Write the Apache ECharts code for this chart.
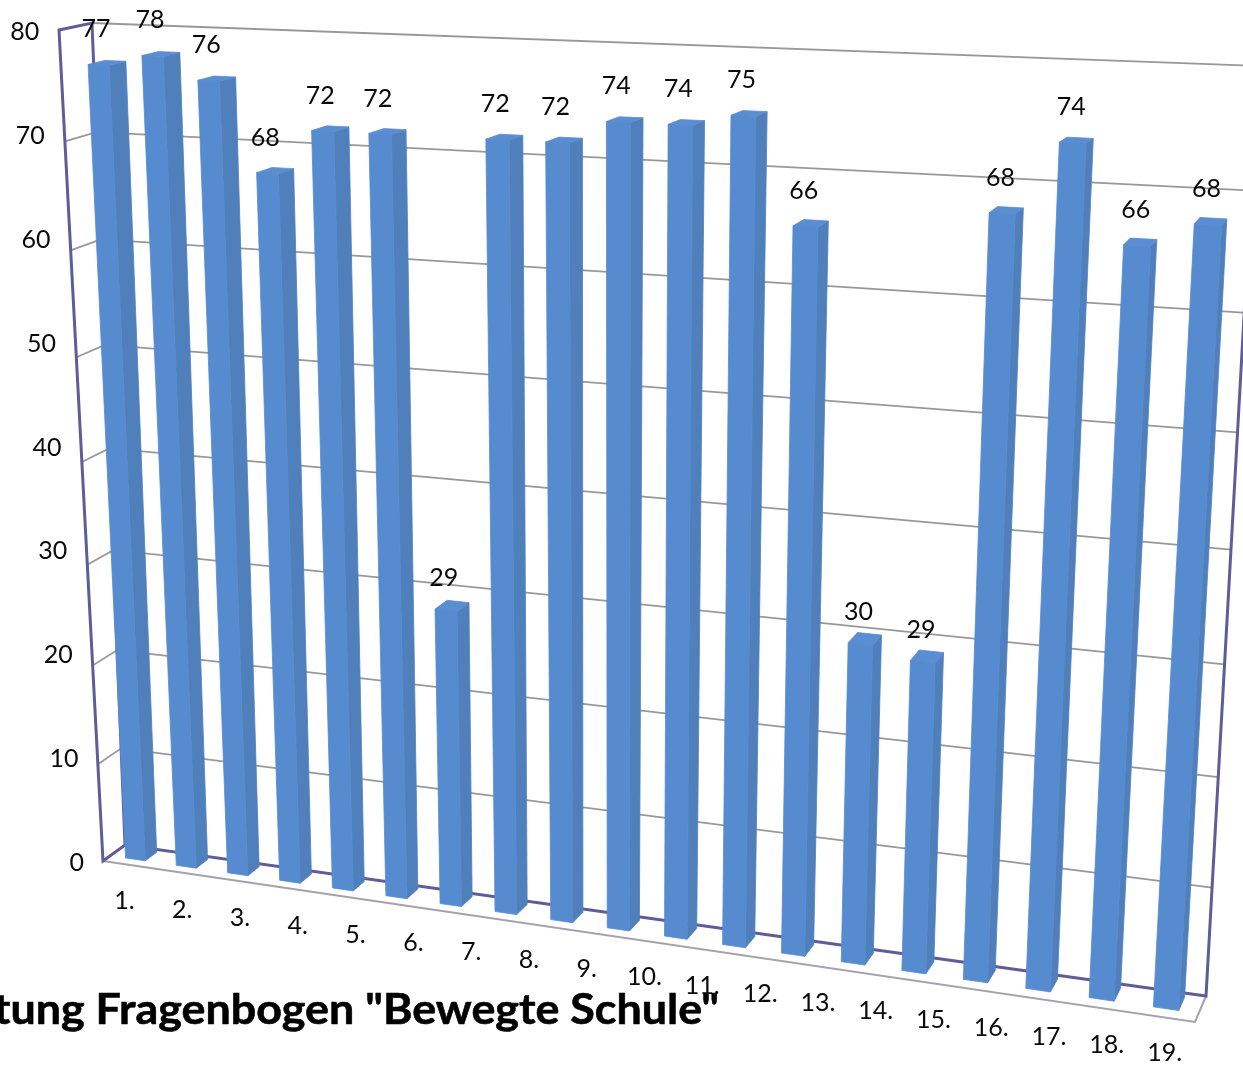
<!DOCTYPE html>
<html><head><meta charset="utf-8">
<style>html,body{margin:0;padding:0;background:#fff}#c{width:1243px;height:1068px}</style>
<script src="https://cdn.jsdelivr.net/npm/echarts@6/dist/echarts.min.js"></script>
</head><body><div id="c"></div>
<script>
const categories = ['1.','2.','3.','4.','5.','6.','7.','8.','9.','10.','11.','12.','13.','14.','15.','16.','17.','18.','19.'];
const values = [77,78,76,68,72,72,29,72,72,74,74,75,66,30,29,68,74,66,68];
const ticks = [0,10,20,30,40,50,60,70,80];
const titleText = 'Auswertung Fragenbogen "Bewegte Schule"';

// view: the flat plot area is warped on to the tilted 3D box of the picture
const GRID = {left:96, top:31, width:1098, height:831};
const FRONT = [[103,861],[1195,1022],[1249,74],[59,30]];   // (u,v)=(0,0),(1,0),(1,1),(0,1)
const BACK  = [[125,845],[1206,996],[1258,66],[92,23]];
const Z_FRONT = 0.33, Z_BACK = 0.85, BAR_HALF = 0.195, TOP_DROP = 2.5;
const C = {front:'#568bcf', side:'#4f80bb', top:'#5a8dd1', grid:'#989898', axis:'#5f5c98', floor:'#a3a2ad', text:'#0a0a0a'};
const FONT = 'Lato, "Open Sans", sans-serif';

function quadMap(q){
  const [[x0,y0],[x1,y1],[x2,y2],[x3,y3]] = q;
  const dx1=x1-x2, dx2=x3-x2, sx=x0-x1+x2-x3, dy1=y1-y2, dy2=y3-y2, sy=y0-y1+y2-y3;
  const den=dx1*dy2-dx2*dy1;
  const g=(sx*dy2-dx2*sy)/den, h=(dx1*sy-sx*dy1)/den;
  const a=x1-x0+g*x1, b=x3-x0+h*x3, d=y1-y0+g*y1, e=y3-y0+h*y3;
  return (u,v)=>{const w=g*u+h*v+1; return [(a*u+b*v+x0)/w,(d*u+e*v+y0)/w];};
}
const hFront = quadMap(FRONT), hBack = quadMap(BACK);
function P(u,v,z){
  const a=hFront(u,v), b=hBack(u,v);
  return [a[0]+(b[0]-a[0])*z, a[1]+(b[1]-a[1])*z];
}
const toU = px => (px-GRID.left)/GRID.width;
const toV = py => (GRID.top+GRID.height-py)/GRID.height;
const line = (pts,stroke,width) => ({type:'polyline',shape:{points:pts},style:{stroke,lineWidth:width,fill:null,lineJoin:'miter'}});

function renderGrid(p,api){
  const val = api.value(0);
  const v = toV(api.coord([0,val])[1]);
  if(val===0) return {type:'group',children:[]};
  const pts = val===80 ? [P(0,v,1),P(1,v,1)] : [P(0,v,0),P(0,v,1),P(1,v,1)];
  return line(pts,C.grid,1.8);
}
function renderFrame(){
  return {type:'group',children:[
    line([P(0,0,0),P(1,0,0),P(1,0,1)],C.floor,2),
    line([P(1,1,1),P(1,0,1),P(0,0,1),P(0,0,0),P(0,1,0),P(0,1,1),P(0,0,1)],C.axis,3)
  ]};
}
function renderBar(p,api){
  const c = api.coord([api.value(0),api.value(1)]);
  const band = api.size([1,0])[0]/GRID.width;
  const uc = toU(c[0]), v = toV(c[1]+TOP_DROP);
  const a = uc-BAR_HALF*band, b = uc+BAR_HALF*band;
  const poly = (pts,fill)=>({type:'polygon',shape:{points:pts},style:{fill,stroke:fill,lineWidth:0.8}});
  const top = P(uc,toV(c[1]),Z_FRONT);
  return {type:'group',children:[
    poly([P(b,0,Z_FRONT),P(b,0,Z_BACK),P(b,v,Z_BACK),P(b,v,Z_FRONT)],C.side),
    poly([P(a,v,Z_FRONT),P(b,v,Z_FRONT),P(b,v,Z_BACK),P(a,v,Z_BACK)],C.top),
    poly([P(a,0,Z_FRONT),P(b,0,Z_FRONT),P(b,v,Z_FRONT),P(a,v,Z_FRONT)],C.front),
    {type:'text',z2:5,style:{text:String(api.value(1)),x:top[0]-2.5+1*uc,y:top[1]-(27+0.08*api.value(1)),
      align:'center',verticalAlign:'middle',fill:C.text,font:'25px '+FONT}}
  ]};
}
function renderTick(p,api){
  const c = api.coord([0,api.value(0)]);
  return {type:'text',style:{text:String(api.value(0)),x:84-0.56*api.value(0),y:c[1]+1,
    align:'right',verticalAlign:'middle',fill:C.text,font:'25px '+FONT}};
}
function renderCat(p,api){
  const c = api.coord([api.value(0),0]);
  return {type:'text',style:{text:categories[api.value(0)],x:c[0]-0.5,y:901+0.1465*(c[0]-125),
    align:'center',verticalAlign:'middle',fill:C.text,font:'25px '+FONT}};
}
function renderTitle(){
  return {type:'text',x:719,y:1010,scaleX:1.055,style:{text:titleText,x:0,y:0,align:'right',verticalAlign:'middle',
    fill:'#000',stroke:'#000',lineWidth:0.6,font:'bold 42.5px '+FONT}};
}
const base = {type:'custom',silent:true,animation:false,clip:false,coordinateSystem:'cartesian2d'};
const chart = echarts.init(document.getElementById('c'),null,{renderer:'canvas',width:1243,height:1068});
chart.setOption({
  animation:false,
  backgroundColor:'#fff',
  grid:{left:GRID.left,top:GRID.top,width:GRID.width,height:GRID.height,containLabel:false},
  xAxis:{type:'category',data:categories,show:false},
  yAxis:{type:'value',min:0,max:80,interval:10,show:false},
  series:[
    Object.assign({},base,{data:ticks.map(t=>[t]),renderItem:renderGrid,encode:{y:0},z:1}),
    Object.assign({},base,{data:[[0]],renderItem:renderFrame,encode:{y:0},z:2}),
    Object.assign({},base,{data:values.map((v,i)=>[i,v]),renderItem:renderBar,encode:{x:0,y:1},z:3}),
    Object.assign({},base,{data:ticks.map(t=>[t]),renderItem:renderTick,encode:{y:0},z:4}),
    Object.assign({},base,{data:[[0]],renderItem:renderTitle,encode:{y:0},z:5}),
    Object.assign({},base,{data:categories.map((c,i)=>[i]),renderItem:renderCat,encode:{x:0},z:6})
  ]
});
</script></body></html>
